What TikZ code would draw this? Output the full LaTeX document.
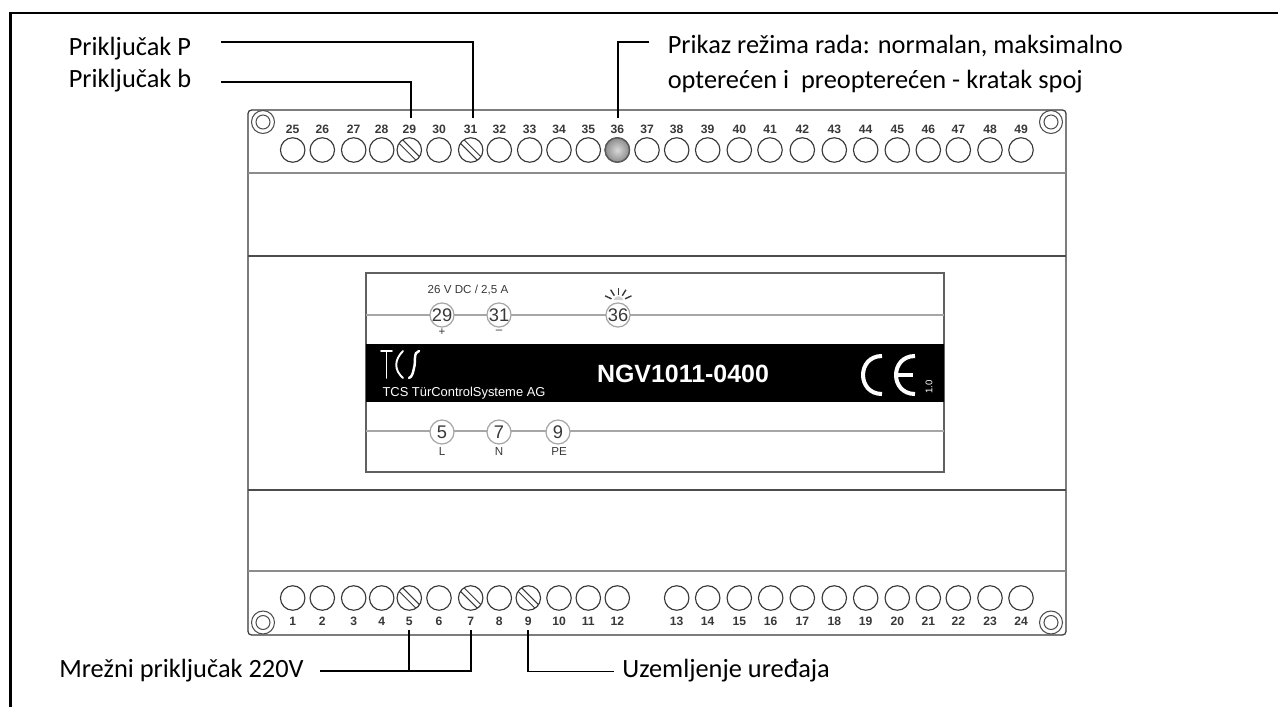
\documentclass[tikz,border=0pt]{standalone}
\usepackage{fontspec}
\setmainfont{Carlito}
\newfontfamily\arialfont{Liberation Sans}
\usetikzlibrary{calc}
\definecolor{casegray}{gray}{0.55}
\definecolor{printgray}{gray}{0.22}
\tikzset{
	caption/.style={inner sep=0, anchor=base west, font=\fontsize{15pt}{17pt}\selectfont},
	leader/.style={black, line width=0.95pt},
	term/.style={circle, draw=printgray, line width=0.65pt, fill=white, minimum size=0.49cm, inner sep=0},
	termnum/.style={inner sep=0, text=printgray, font=\arialfont\bfseries\fontsize{6.9pt}{8pt}\selectfont},
	panelterm/.style={circle, draw=gray!70, line width=0.7pt, fill=white, minimum size=0.48cm, inner sep=0, text=printgray, font=\arialfont\fontsize{10.4pt}{11pt}\selectfont},
	paneltext/.style={inner sep=0, text=printgray, font=\arialfont\fontsize{6.6pt}{8pt}\selectfont},
	logoline/.style={white, line width=1.1pt, line cap=round},
	celine/.style={white, line width=2.3pt},
}

\begin{document}
\begin{tikzpicture}[x=0.02cm, y=-0.02cm]
	\useasboundingbox (0,0) rectangle (1278,707);

	% frame
	\draw[black, line width=1.4pt] (10.5,707) -- (10.5,13) -- (1278,13);

	% housing
	\draw[draw=printgray, line width=0.7pt, rounded corners=2pt] (248,110) rectangle (1066,635);
	\draw[casegray, line width=1.5pt] (248,173) -- (1066,173);
	\draw[gray!60!black, line width=1pt] (248,256) -- (1066,256);
	\draw[gray!60!black, line width=1pt] (248,490) -- (1066,490);
	\draw[casegray, line width=1.5pt] (248,571) -- (1066,571);

	% mounting holes
	\foreach \hx/\hy in {263/122, 1051/122, 263/622.5, 1051/622.5}
		\draw[gray!60!black, line width=0.6pt] (\hx,\hy) circle (11.5) circle (7);

	% terminals, upper row
	\foreach \n/\tx in {25/292.7, 26/322.3, 27/353.7, 28/381.7, 29/409.3, 30/439, 31/470.7, 32/499.3, 33/529.7, 34/559, 35/588.3, 36/617.3, 37/647, 38/676.7, 39/707.7, 40/739.3, 41/770, 42/802.3, 43/834.3, 44/865.7, 45/897.3, 46/928.3, 47/958.3, 48/990, 49/1021}{
		\node[term] (t\n) at (\tx,150) {};
		\node[termnum] (n\n) at (\tx,129) {\n};
	}

	% terminals, lower row
	\foreach \n/\tx in {1/292.7, 2/322.3, 3/353.7, 4/381.7, 5/409.3, 6/439, 7/470.7, 8/499.3, 9/528.3, 10/559, 11/588.3, 12/617.3, 13/676.7, 14/707.7, 15/739.3, 16/770.7, 17/802.3, 18/834.3, 19/865.7, 20/897.3, 21/928.3, 22/958.3, 23/990, 24/1021}{
		\node[term] (t\n) at (\tx,598) {};
		\node[termnum] (n\n) at (\tx,621.5) {\n};
	}

	% screw slots and lamp
	\foreach \s in {t29, t31, t5, t7, t9}{
		\draw[printgray, line width=0.55pt] ($(\s.center)+(-6.5,-10.1)$) -- ($(\s.center)+(10.1,6.5)$);
		\draw[printgray, line width=0.55pt] ($(\s.center)+(-10.1,-6.5)$) -- ($(\s.center)+(6.5,10.1)$);
	}
	\shadedraw [draw=gray!70!black, inner color=gray!30, outer color=gray!90, line width=0.8pt] (t36.center) circle (12.2);

	% type plate
	\draw[draw=gray!75!black, line width=0.8pt] (366,273) rectangle (944,472);
	\draw[gray!70, line width=0.6pt] (366,315) -- (944,315);
	\draw[gray!70, line width=0.6pt] (366,431) -- (944,431);
	\fill[black] (366,344) rectangle (944,402);

	\node[paneltext] (rating) at (468,290) {26 V DC / 2,5 A};
	\node[panelterm] (p29) at (442,315) {29};
	\node[panelterm] (p31) at (499,315) {31};
	\node[panelterm] (p36) at (618,315) {36};
	\node[panelterm] (p5) at (442,432) {5};
	\node[panelterm] (p7) at (499,432) {7};
	\node[panelterm] (p9) at (558,432) {9};
	\node[paneltext] (plus) at (442,332) {+};
	\node[paneltext] (minus) at (499,332) {–};
	\node[paneltext] (lineL) at (442,452) {L};
	\node[paneltext] (lineN) at (499,452) {N};
	\node[paneltext] (linePE) at (559,452) {PE};

	% lamp symbol
	\fill[gray!35] (613.5,300) .. controls (615,295) and (622,295) .. (623.5,300) -- cycle;
	\foreach \a in {-155,-122,-90,-58,-25}
		\draw[printgray, line width=0.8pt] ($(618.3,302)+(\a:7.5)$) -- ($(618.3,302)+(\a:14.5)$);

	% logo
	\draw[logoline] (381,351) -- (392,351);
	\draw[logoline] (386.5,351) -- (386.5,378);
	\draw[logoline] (403,351) .. controls (394,360) and (394,370) .. (403,378);
	\draw[logoline, line width=1.4pt] (419,351) .. controls (413,352) and (416,362) .. (414,368) .. controls (413,373) and (412,377) .. (409,378);
	\node[inner sep=0, text=white, font=\arialfont\fontsize{7.35pt}{8pt}\selectfont] (maker) at (464,393) {TCS TürControlSysteme AG};
	\node[inner sep=0, text=white, font=\arialfont\bfseries\fontsize{14.2pt}{16pt}\selectfont] (model) at (683,374) {NGV1011-0400};

	% CE mark
	\draw[celine] (882,356) .. controls (856.7,356) and (856.7,394) .. (882,394);
	\draw[celine] (915,356) .. controls (889.7,356) and (889.7,394) .. (915,394);
	\draw[celine] (896,375) -- (913,375);
	\node[inner sep=0, text=white, rotate=90, font=\arialfont\fontsize{5.5pt}{6pt}\selectfont] (rev) at (929,387) {1.0};

	% captions
	\node[caption] (capP) at (68.5,55) {Priključak P};
	\node[caption] (capB) at (68.5,87) {Priključak b};
	\node[caption] (capMode) at (667.5,53) {Prikaz režima rada: normalan, maksimalno};
	\node[caption] (capLoad) at (667.5,88) {opterećen i\ \ preopterećen - kratak spoj};
	\node[caption] (capMains) at (59,677) {Mrežni priključak 220V};
	\node[caption] (capEarth) at (622,677) {Uzemljenje uređaja};

	% leaders
	\coordinate (P1) at (221,42);
	\coordinate (P2) at (473.3,118);
	\coordinate (B1) at (221,82);
	\coordinate (B2) at (410.7,118);
	\coordinate (M1) at (649,42);
	\coordinate (M2) at (618.3,118);
	\coordinate (L1) at (320,670.7);
	\coordinate (L2) at (409,630);
	\coordinate (L3) at (470.7,630);
	\coordinate (E1) at (528.3,630);
	\coordinate (E2) at (614,671.5);

	\draw[leader] (P1) -| (P2);
	\draw[leader] (B1) -| (B2);
	\draw[leader] (M1) -| (M2);
	\draw[leader] (L1) -| (L3);
	\draw[leader] (L2) -- (L2 |- L1);
	\draw[leader] (E1) |- (E2);
\end{tikzpicture}
\end{document}
